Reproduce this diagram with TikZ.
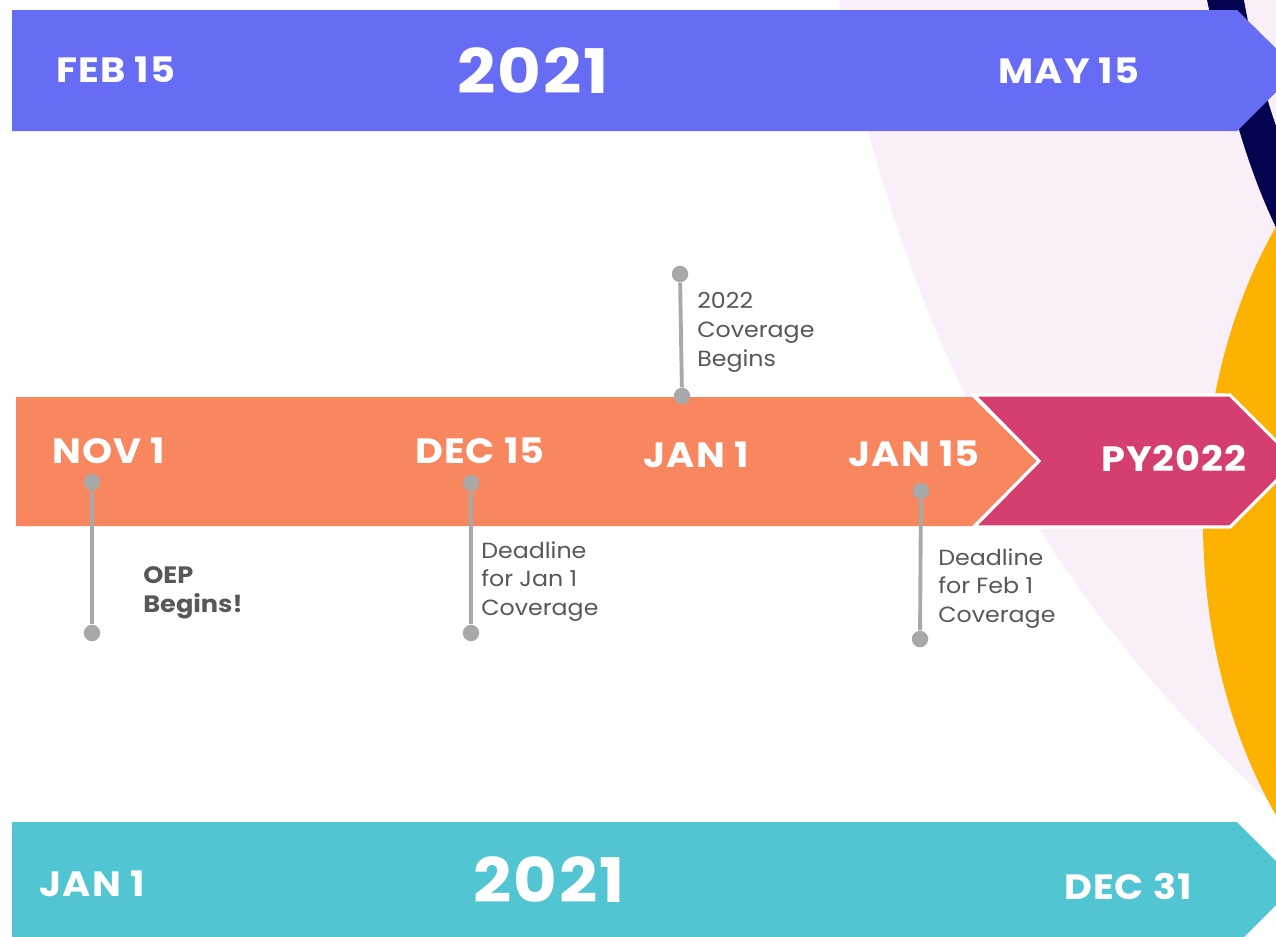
\documentclass[tikz,border=0pt]{standalone}
\usepackage{fontspec}
\setmainfont{Poppins}
\newfontfamily\bandfont{Poppins}[FakeStretch=1.09, LetterSpace=3]
\newfontfamily\notefont{Poppins}[FakeStretch=1.08]
\usepackage{xcolor}
\usepackage{tikz}
\definecolor{bandblue}{HTML}{676CF5}
\definecolor{bandorange}{HTML}{F8865F}
\definecolor{bandmagenta}{HTML}{D43F6F}
\definecolor{bandteal}{HTML}{51C5D2}
\definecolor{swooshpink}{HTML}{F9EFF8}
\definecolor{swooshnavy}{HTML}{03034F}
\definecolor{swooshyellow}{HTML}{FDB100}
\definecolor{pingrey}{HTML}{A8A8A8}
\definecolor{notegrey}{HTML}{585858}

\begin{document}
\begin{tikzpicture}[
    x=0.02cm, y=-0.02cm,
    datelabel/.style={text=white, font=\bandfont\fontsize{20}{24}\selectfont\bfseries, inner sep=0pt},
    yearlabel/.style={text=white, font=\bandfont\fontsize{35}{40}\selectfont\bfseries, inner sep=0pt},
    note/.style={text=notegrey, font=\notefont\fontsize{12.5}{16.4}\selectfont, align=left, anchor=north west, inner sep=0pt},
    pin/.style={circle, fill=pingrey, minimum size=0.33cm, inner sep=0pt},
    stem/.style={draw=pingrey, line width=2.2pt}
]
    \clip (0,0) rectangle (1276,937);
    \fill[white] (0,0) rectangle (1276,937);

    % background swooshes
    \fill[swooshpink] (838,-5) .. controls (900,330) and (1040,600) .. (1290,820) -- (1290,-5) -- cycle;
    \fill[swooshnavy] (1206,-5) .. controls (1228,100) and (1250,180) .. (1285,245) -- (1285,150) .. controls (1265,100) and (1252,45) .. (1243,-5) -- cycle;
    \fill[swooshyellow] (1503,521) ellipse [x radius=300, y radius=450];

    % bands
    \fill[bandblue] (12,10) -- (1237,10) -- (1298,70) -- (1237,131) -- (12,131) -- cycle;
    \fill[bandorange] (16,397) -- (972,397) -- (1037,461) -- (972,526) -- (16,526) -- cycle;
    \filldraw[fill=bandmagenta, draw=white, line width=1.8pt] (974,395) -- (1230,395) -- (1296,461) -- (1230,527) -- (974,527) -- (1039,461) -- cycle;
    \fill[bandteal] (12,822) -- (1237,822) -- (1298,883) -- (1237,944) -- (12,944) -- cycle;

    % top band
    \node[datelabel] (feb15) at (116,70) {FEB 15};
    \node[yearlabel] (year-top) at (533,71) {2021};
    \node[datelabel] (may15) at (1069,71) {MAY 15};

    % open enrollment band
    \node[datelabel] (nov1) at (109,451) {NOV 1};
    \node[datelabel] (dec15) at (480,451) {DEC 15};
    \node[datelabel] (jan1) at (696,455) {JAN 1};
    \node[datelabel] (jan15) at (914,454) {JAN 15};
    \node[datelabel] (py2022) at (1174,458) {PY2022};

    % bottom band
    \node[datelabel] (jan1-cal) at (92,884) {JAN 1};
    \node[yearlabel] (year-bot) at (549,880) {2021};
    \node[datelabel] (dec31) at (1128,886) {DEC 31};

    % pins
    \node[pin] (nov1-top) at (92,482) {};
    \node[pin] (nov1-bot) at (92,633) {};
    \node[pin] (dec15-top) at (471,483) {};
    \node[pin] (dec15-bot) at (471,633) {};
    \node[pin] (jan1-top) at (680,274) {};
    \node[pin] (jan1-bot) at (682,396) {};
    \node[pin] (jan15-top) at (921,491) {};
    \node[pin] (jan15-bot) at (920,639) {};

    \draw[stem] (nov1-top) -- (nov1-bot);
    \draw[stem] (dec15-top) -- (dec15-bot);
    \draw[stem] (jan1-top) -- (jan1-bot);
    \draw[stem] (jan15-top) -- (jan15-bot);

    % notes
    \node[note, font=\notefont\fontsize{13.5}{16.4}\selectfont\bfseries] (oep) at (143,566) {OEP\\Begins!};
    \node[note] (dec15-note) at (481,541) {Deadline\\for Jan 1\\Coverage};
    \node[note] (jan1-note) at (697,292) {2022\\Coverage\\Begins};
    \node[note] (jan15-note) at (938,548) {Deadline\\for Feb 1\\Coverage};
\end{tikzpicture}
\end{document}
